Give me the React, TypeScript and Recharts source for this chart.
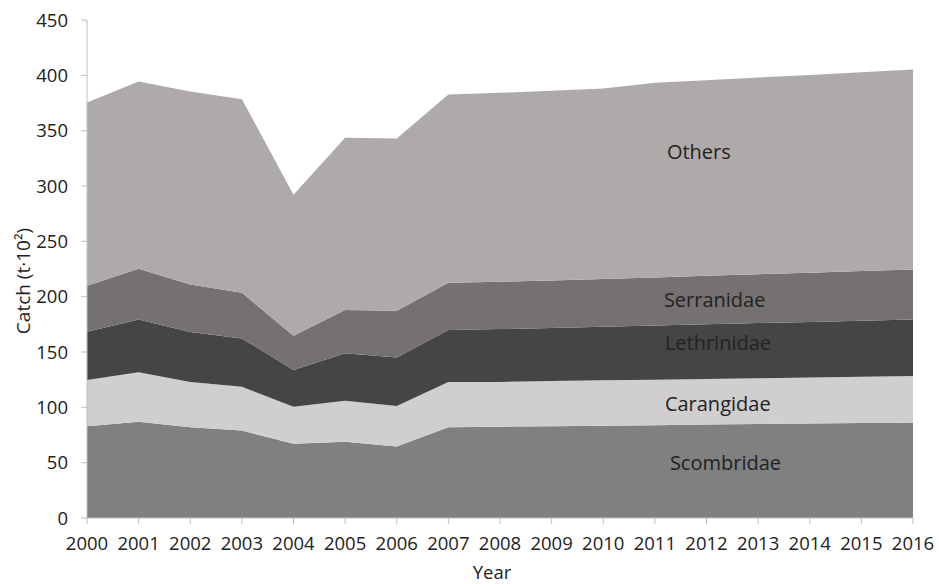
import React from 'react';
import { AreaChart, Area, XAxis, YAxis, ReferenceDot } from 'recharts';

// years on the x axis
const years = [2000, 2001, 2002, 2003, 2004, 2005, 2006, 2007, 2008, 2009, 2010, 2011, 2012, 2013, 2014, 2015, 2016];

// catch per family (t·10²), stacked bottom to top
const scombridae = [83, 87, 82, 79, 67, 69, 64.5, 82, 82.5, 83, 83.4, 83.9, 84.5, 85, 85.5, 85.8, 86.1];
const carangidae = [41.7, 44.6, 41, 39.6, 33.6, 37, 36.7, 41, 40.5, 40.8, 41, 41.1, 41.2, 41.3, 41.5, 41.8, 42.2];
const lethrinidae = [43.6, 47.8, 45, 43.7, 33.1, 42.8, 43.9, 46.8, 47.7, 47.8, 48.4, 48.9, 49.3, 49.8, 50.2, 50.7, 51.1];
const serranidae = [41.6, 45.8, 43, 41.2, 31, 39.1, 42.2, 42.8, 42.8, 43.1, 43.1, 43.5, 43.8, 44.2, 44.5, 44.9, 45.2];
const others = [165.6, 169.3, 174.5, 175, 127.3, 155.6, 155.7, 170, 170.7, 171.3, 172.2, 175.8, 176.7, 177.7, 178.7, 179.6, 180.7];

const yTicks = [0, 50, 100, 150, 200, 250, 300, 350, 400, 450];

// in-chart labels: [text, stacked y position, x offset]
const annotations: [string, number, number][] = [
  ['Others', 331, 12],
  ['Serranidae', 197, 9],
  ['Lethrinidae', 158, 10],
  ['Carangidae', 103, 10],
  ['Scombridae', 50, 15],
];

const data = years.map((year, i) => ({
  year,
  scombridae: scombridae[i],
  carangidae: carangidae[i],
  lethrinidae: lethrinidae[i],
  serranidae: serranidae[i],
  others: others[i],
}));

const FONT = '"Open Sans", sans-serif';
const TEXT = '#222';
const AXIS = '#bfbfbf';

const YLabel = ({ viewBox }: any) => {
  const cx = 23;
  const cy = viewBox.y + viewBox.height / 2 + 12;
  return (
    <text
      x={cx}
      y={cy}
      transform={`rotate(-90, ${cx}, ${cy})`}
      textAnchor="middle"
      dominantBaseline="central"
      fill={TEXT}
      fontSize={19}
      fontFamily={FONT}
    >
      Catch (t·10²)
    </text>
  );
};

const XLabel = ({ viewBox }: any) => (
  <text
    x={viewBox.x + viewBox.width / 2 - 8}
    y={579}
    textAnchor="middle"
    fill={TEXT}
    fontSize={18.5}
    fontFamily={FONT}
  >
    Year
  </text>
);

export default function App() {
  return (
    <div style={{ position: 'absolute', left: 0, top: 0, width: 939, height: 584, background: '#fff' }}>
      <AreaChart width={939} height={584} data={data} margin={{ top: 20, right: 26, bottom: 0, left: 0 }}>
        <XAxis
          dataKey="year"
          height={66}
          stroke={AXIS}
          tickSize={6}
          tickMargin={13}
          tick={{ fill: TEXT, fontSize: 18.5, fontFamily: FONT }}
          interval={0}
          label={<XLabel />}
        />
        <YAxis
          width={87}
          domain={[0, 450]}
          ticks={yTicks}
          stroke={AXIS}
          tickSize={6}
          tickMargin={13}
          tick={{ fill: TEXT, fontSize: 18.5, fontFamily: FONT }}
          label={<YLabel />}
        />
        <Area type="linear" dataKey="scombridae" stackId="1" stroke="none" fill="#808080" fillOpacity={1} isAnimationActive={false} />
        <Area type="linear" dataKey="carangidae" stackId="1" stroke="none" fill="#d0cece" fillOpacity={1} isAnimationActive={false} />
        <Area type="linear" dataKey="lethrinidae" stackId="1" stroke="none" fill="#454545" fillOpacity={1} isAnimationActive={false} />
        <Area type="linear" dataKey="serranidae" stackId="1" stroke="none" fill="#757171" fillOpacity={1} isAnimationActive={false} />
        <Area type="linear" dataKey="others" stackId="1" stroke="none" fill="#aeaaaa" fillOpacity={1} isAnimationActive={false} />
        {annotations.map(([text, y, dx]) => (
          <ReferenceDot
            key={text}
            x={2011}
            y={y}
            r={0}
            fill="none"
            stroke="none"
            label={{ value: text, position: 'right', offset: dx, fill: TEXT, fontSize: 20, fontFamily: FONT }}
          />
        ))}
      </AreaChart>
    </div>
  );
}
